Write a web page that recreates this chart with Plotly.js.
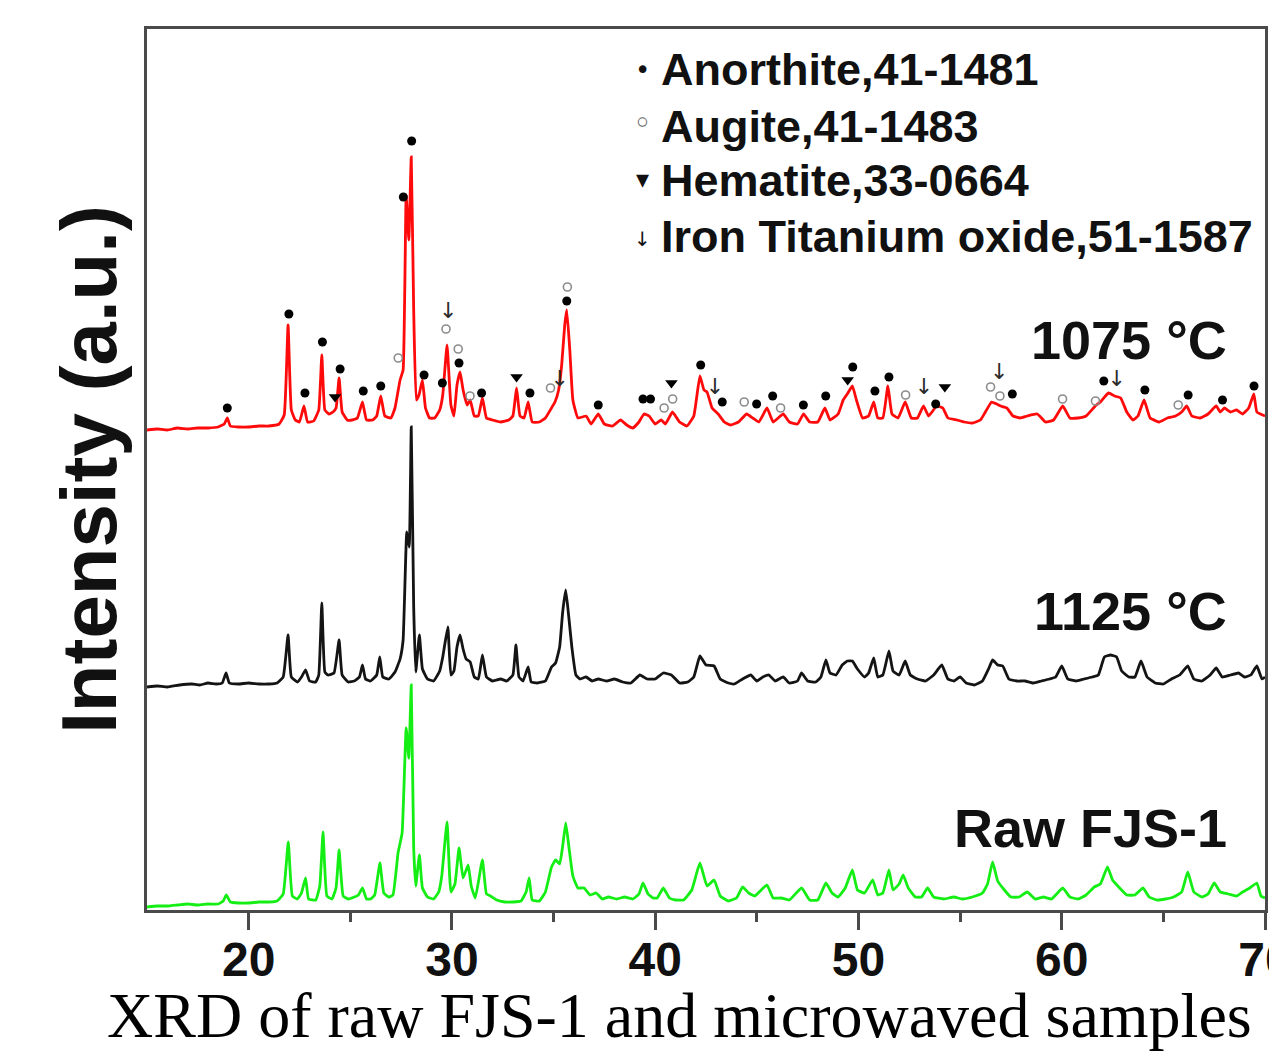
<!DOCTYPE html>
<html>
<head>
<meta charset="utf-8">
<script src="https://cdn.plot.ly/plotly-3.0.1.min.js"></script>
<style>html,body{margin:0;padding:0;background:#fff;}#chart{width:1269px;height:1052px;}</style>
</head>
<body>
<div id="chart"></div>
<script>
// ---- Data (2θ in degrees, intensity in a.u. above each pattern's own baseline) ----
const redTheta = [15.0,15.5,16.0,16.5,17.0,17.5,18.0,18.5,18.8,18.95,19.1,19.5,20.0,20.5,21.0,21.5,21.75,21.94,22.1,22.3,22.5,22.72,22.9,23.2,23.45,23.6,23.75,23.95,24.15,24.3,24.45,24.6,24.85,25.1,25.35,25.6,25.8,26.1,26.3,26.5,26.7,27.0,27.2,27.45,27.6,27.75,27.88,28.0,28.12,28.25,28.38,28.55,28.7,28.9,29.15,29.4,29.55,29.76,29.95,30.1,30.25,30.4,30.55,30.75,30.9,31.1,31.3,31.5,31.7,32.0,32.4,32.8,33.0,33.18,33.35,33.55,33.75,33.95,34.3,34.6,34.9,35.07,35.25,35.4,35.55,35.65,35.8,35.95,36.2,36.6,36.85,37.2,37.5,37.9,38.3,38.6,38.9,39.2,39.45,39.7,40.0,40.3,40.5,40.85,41.2,41.56,41.9,42.2,42.4,42.55,42.8,43.1,43.4,43.7,44.1,44.5,44.8,45.1,45.5,45.8,46.05,46.3,46.6,47.0,47.3,47.6,48.0,48.35,48.6,49.0,49.25,49.45,49.7,49.9,50.2,50.5,50.75,50.95,51.2,51.45,51.65,51.95,52.3,52.6,52.9,53.2,53.45,53.85,54.15,54.4,54.85,55.2,55.6,56.0,56.3,56.55,56.8,57.0,57.3,57.6,57.95,58.3,58.8,59.2,59.6,60.05,60.4,60.8,61.2,61.65,61.9,62.3,62.6,62.9,63.2,63.5,63.75,64.05,64.35,64.8,65.2,65.6,65.9,66.15,66.4,66.8,67.2,67.6,67.8,68.0,68.3,68.6,68.9,69.2,69.45,69.6,70.0];
const redInt = [0,1,0,2,1,2,2,3,6,12,4,3,3,4,4,6,15,105,20,10,8,24,8,9,20,75,20,16,18,22,52,18,10,10,12,28,10,10,14,34,14,12,22,50,60,235,190,273,120,30,35,50,22,12,12,20,35,85,25,14,45,58,40,25,30,14,14,32,12,10,8,10,14,42,14,12,28,8,8,12,22,28,40,65,105,120,80,30,12,14,6,16,6,4,10,5,2,8,16,14,6,10,6,18,8,4,14,54,40,38,22,16,8,5,8,16,12,8,22,8,12,16,8,6,16,8,8,22,10,16,30,36,44,30,12,14,28,12,12,44,16,12,28,12,12,24,14,24,22,12,10,8,7,10,20,28,26,24,22,14,12,14,16,8,10,24,12,12,14,24,28,37,34,32,18,10,14,30,12,8,12,14,18,24,14,12,16,24,18,22,18,20,16,22,36,18,14];

const blackTheta = [15.0,15.5,16.0,16.6,17.2,17.6,18.0,18.4,18.7,18.89,19.05,19.5,20.0,20.5,21.0,21.4,21.7,21.94,22.1,22.4,22.6,22.8,23.0,23.3,23.45,23.6,23.75,23.9,24.2,24.45,24.6,24.9,25.2,25.45,25.6,25.75,26.0,26.3,26.45,26.6,26.9,27.2,27.45,27.6,27.78,27.9,28.0,28.12,28.22,28.4,28.55,28.8,29.1,29.4,29.55,29.8,29.95,30.1,30.25,30.4,30.55,30.7,30.9,31.1,31.3,31.5,31.7,32.0,32.4,32.7,33.0,33.15,33.3,33.5,33.75,33.9,34.2,34.6,34.9,35.1,35.3,35.45,35.6,35.75,35.9,36.1,36.3,36.6,36.9,37.2,37.6,38.0,38.4,38.8,39.25,39.6,40.0,40.4,40.8,41.2,41.6,41.9,42.2,42.5,42.9,43.2,43.6,43.9,44.3,44.7,45.0,45.3,45.6,45.9,46.3,46.6,47.0,47.2,47.5,47.9,48.15,48.4,48.6,48.9,49.2,49.45,49.7,49.95,50.3,50.5,50.75,50.95,51.2,51.5,51.7,52.0,52.3,52.55,52.9,53.3,53.7,54.1,54.4,54.7,55.0,55.3,55.7,56.1,56.4,56.6,56.85,57.1,57.4,57.8,58.2,58.6,59.0,59.4,59.7,60.0,60.3,60.7,61.1,61.5,61.8,62.1,62.4,62.7,62.95,63.3,63.6,63.9,64.2,64.6,65.0,65.4,65.8,66.2,66.5,66.9,67.3,67.6,67.9,68.3,68.7,69.0,69.3,69.6,69.85,70.0];
const blackInt = [0,1,0,2,3,2,4,3,4,14,4,3,4,3,3,4,10,52,10,5,10,17,6,5,12,84,15,12,14,47,12,5,6,10,22,8,6,12,30,10,8,15,28,47,155,140,260,80,15,52,18,8,6,16,30,60,12,16,40,52,38,28,25,10,8,32,10,6,8,6,12,42,10,6,20,5,4,6,20,24,40,75,97,70,40,12,8,10,6,8,6,8,5,4,12,8,8,14,12,4,5,10,31,22,21,8,4,3,8,12,6,10,12,6,10,4,6,14,6,5,10,27,14,12,22,26,26,18,10,14,29,10,12,36,16,12,26,12,8,6,12,22,8,6,10,4,2,6,18,27,22,21,8,6,6,4,6,8,10,21,8,6,8,10,12,30,32,30,16,10,10,26,10,4,3,8,12,21,8,6,12,19,10,12,14,10,12,21,8,10];

const greenTheta = [15.0,15.5,16.0,16.5,17.0,17.5,18.0,18.5,18.75,18.9,19.1,19.5,20.0,20.5,21.0,21.4,21.7,21.95,22.15,22.4,22.6,22.8,22.95,23.3,23.5,23.66,23.85,24.1,24.3,24.45,24.65,24.9,25.2,25.4,25.6,25.8,26.0,26.2,26.46,26.65,26.9,27.1,27.35,27.55,27.75,27.88,28.0,28.12,28.22,28.4,28.55,28.8,29.1,29.35,29.5,29.76,29.95,30.15,30.35,30.55,30.8,30.95,31.15,31.5,31.7,31.9,32.2,32.6,33.0,33.4,33.65,33.8,33.95,34.3,34.6,34.9,35.1,35.3,35.45,35.6,35.75,35.95,36.2,36.5,36.8,37.1,37.4,37.7,38.1,38.5,38.9,39.2,39.4,39.65,39.9,40.1,40.4,40.7,41.0,41.4,41.8,42.2,42.55,42.9,43.2,43.6,44.0,44.3,44.6,44.9,45.5,45.8,46.2,46.6,47.2,47.6,48.0,48.4,48.7,49.0,49.35,49.7,49.95,50.3,50.7,50.95,51.2,51.5,51.7,52.0,52.2,52.45,52.8,53.1,53.4,53.7,54.2,54.7,55.1,55.6,56.1,56.35,56.6,56.85,57.1,57.5,57.9,58.3,58.7,59.1,59.5,60.05,60.4,60.8,61.2,61.6,61.9,62.25,62.5,62.85,63.2,63.6,64.0,64.3,64.7,65.1,65.5,65.9,66.2,66.5,66.9,67.2,67.5,67.8,68.2,68.6,68.9,69.25,69.6,69.8,70.0];
const greenInt = [1,2,2,3,4,3,4,4,7,13,6,5,5,6,6,7,14,66,12,9,15,30,9,8,22,76,12,9,20,58,12,9,11,13,20,9,9,13,45,15,11,13,55,75,180,150,223,60,22,53,20,11,9,16,32,86,16,24,60,30,43,22,10,48,14,12,8,6,6,7,16,30,8,7,16,41,48,44,62,85,62,32,20,20,13,15,9,11,9,11,9,14,25,14,10,10,20,10,8,8,18,45,22,28,12,7,10,21,15,12,23,10,10,8,20,8,8,25,15,11,20,38,18,15,28,13,15,38,18,24,33,20,11,11,20,11,9,11,9,11,15,24,46,27,20,11,11,16,9,11,9,20,11,9,13,21,24,41,28,20,13,13,20,11,8,9,11,16,36,16,11,14,25,16,14,12,16,20,25,12,10];

// Vertical stacking offsets of the three patterns (a.u.)
const seriesNames = ['1075 °C', '1125 °C', 'Raw FJS-1'];
const seriesOffsets = [480, 223, 2];
const seriesColors = ['#ff0a0a', '#141414', '#14ee14'];

// Phase identification marks on the 1075 °C pattern (2θ, height above its baseline)
const anorthiteTheta = [18.95,21.98,22.77,23.63,24.5,25.64,26.5,27.61,28.02,28.63,29.53,30.35,31.46,33.84,35.65,37.2,39.4,39.77,42.24,43.3,44.99,45.78,47.29,48.39,49.72,50.81,51.5,53.8,57.57,62.07,64.09,66.22,67.91,69.46];
const anorthiteInt = [22,116,37,88,61,39,44,233,289,55,47,67,37,37,129,25,31,31,65,28,26,34,25,34,63,39,53,26,36,49,40,35,30,44];
const augiteTheta = [27.36,29.71,30.31,30.89,34.85,35.68,40.44,40.86,44.38,46.17,52.32,56.5,56.96,60.04,61.66,65.73];
const augiteInt = [72,101,81,34,42,143,22,31,28,22,35,43,34,31,29,25];
const hematiteTheta = [24.25,33.18,40.8,49.47,54.25];
const hematiteInt = [33,53,47,50,43];
const ironTiTheta = [29.82,35.3,42.94,53.22,56.93,62.7];
const ironTiInt = [118,50,42,42,57,50];

const legendLabels = ['Anorthite,41-1481', 'Augite,41-1483', 'Hematite,33-0664', 'Iron Titanium oxide,51-1587'];
const legendSymbols = ['•', '◦', '▾', '↓'];
const xTickVals = [20, 30, 40, 50, 60, 70];
const xTickText = ['20', '30', '40', '50', '60', '70'];

// ---- Build traces ----
const SANS = 'Liberation Sans, Arial, Helvetica, sans-serif';
const thetas = [redTheta, blackTheta, greenTheta];
const ints = [redInt, blackInt, greenInt];
const traces = [];
for (let i = 2; i >= 0; i--) {
  traces.push({
    type: 'scatter', mode: 'lines', name: seriesNames[i],
    x: thetas[i], y: ints[i].map(v => v + seriesOffsets[i]),
    line: {color: seriesColors[i], width: 2.8, shape: 'spline', smoothing: 0.35}, hoverinfo: 'x+y'
  });
}
const base = seriesOffsets[0];
traces.push({type:'scatter', mode:'markers', name:'Anorthite', x: anorthiteTheta, y: anorthiteInt.map(v=>v+base),
  marker:{symbol:'circle', size:9, color:'#000'}});
traces.push({type:'scatter', mode:'markers', name:'Augite', x: augiteTheta, y: augiteInt.map(v=>v+base),
  marker:{symbol:'circle-open', size:8, color:'#8c8c8c', line:{width:1.6, color:'#8c8c8c'}}});
traces.push({type:'scatter', mode:'markers', name:'Hematite', x: hematiteTheta, y: hematiteInt.map(v=>v+base),
  marker:{symbol:'triangle-down', size:11, color:'#000'}});
traces.push({type:'scatter', mode:'text', name:'Iron Titanium oxide', x: ironTiTheta, y: ironTiInt.map(v=>v+base),
  text: ironTiTheta.map(()=> '↓'), textposition:'middle center',
  textfont:{family:'DejaVu Sans, sans-serif', size:22, color:'#2a2a2a'}});

// ---- Annotations ----
const ann = [];
const legY = [0.9535, 0.889, 0.828, 0.764];
const symY = [0.953, 0.893, 0.830, 0.762];
const symSize = [26, 32, 26, 20];
for (let i = 0; i < legendLabels.length; i++) {
  ann.push({xref:'paper', yref:'paper', x:0.458, y:legY[i], xanchor:'left', yanchor:'middle', showarrow:false,
    text: legendLabels[i], font:{family:SANS, size:45, weight:'bold', color:'#111'}});
  ann.push({xref:'paper', yref:'paper', x:0.443, y:symY[i], xanchor:'center', yanchor:'middle', showarrow:false,
    text: legendSymbols[i], font:{family:'DejaVu Sans, sans-serif', size:symSize[i], color: i===1 ? '#666' : '#111'}});
}
const labelY = [0.647, 0.3394, 0.093];
for (let i = 0; i < 3; i++) {
  ann.push({xref:'paper', yref:'paper', x:0.968, y:labelY[i], xanchor:'right', yanchor:'middle', showarrow:false,
    text: seriesNames[i], font:{family:SANS, size:54, weight:'bold', color:'#111'}});
}
ann.push({xref:'paper', yref:'paper', x:0.476, y:-0.1612, xanchor:'center', yanchor:'bottom', showarrow:false, borderpad:0,
  text:'XRD of raw FJS-1 and microwaved samples', font:{family:'Liberation Serif, Times New Roman, serif', size:64, color:'#000'}});

const AX = '#4a4a4a';
const layout = {
  width:1269, height:1052,
  margin:{l:147, r:4, t:29, b:142, pad:0},
  paper_bgcolor:'#fff', plot_bgcolor:'#fff',
  showlegend:false,
  xaxis:{range:[15,70], tickmode:'array', tickvals:xTickVals, ticktext:xTickText,
    ticks:'outside', ticklen:17, tickwidth:3, tickcolor:AX,
    minor:{tickmode:'array', tickvals:[25,35,45,55,65], ticks:'outside', ticklen:9, tickwidth:3, tickcolor:AX, showgrid:false},
    showline:true, linewidth:3, linecolor:AX, mirror:true, showgrid:false, zeroline:false,
    tickfont:{family:SANS, size:48, weight:'bold', color:'#111'}, ticklabelstandoff:-12, ticklabeloverflow:'allow'},
  yaxis:{range:[0,881], showticklabels:false, ticks:'', showline:true, linewidth:3, linecolor:AX, mirror:true,
    showgrid:false, zeroline:false,
    title:{text:'Intensity (a.u.)', font:{family:SANS, size:78, weight:'bold', color:'#111'}, standoff:2}},
  annotations: ann
};
Plotly.newPlot('chart', traces, layout, {displayModeBar:false, staticPlot:true});
</script>
</body>
</html>
